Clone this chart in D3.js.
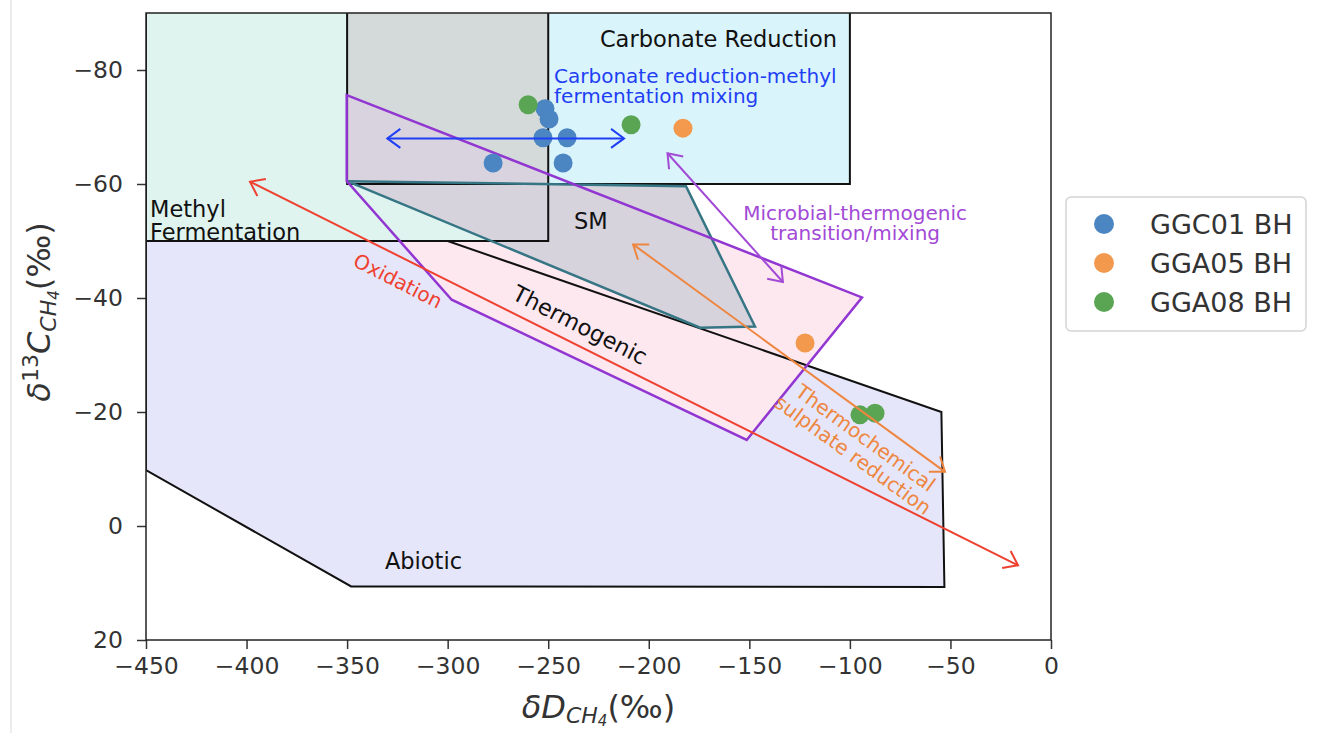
<!DOCTYPE html>
<html>
<head>
<meta charset="utf-8">
<script src="https://cdn.jsdelivr.net/npm/d3@7"></script>
<style>
  body { margin: 0; background: #fff; }
  svg { font-family: "DejaVu Sans", sans-serif; }
</style>
</head>
<body>
<div id="chart"></div>
<script>
// ---- data (delta D, delta 13C, per mil) ----
const xTicks = [-450, -400, -350, -300, -250, -200, -150, -100, -50, 0];
const xTickLabels = ["\u2212450", "\u2212400", "\u2212350", "\u2212300", "\u2212250", "\u2212200", "\u2212150", "\u2212100", "\u221250", "0"];
const yTicks = [-80, -60, -40, -20, 0, 20];
const yTickLabels = ["\u221280", "\u221260", "\u221240", "\u221220", "0", "20"];

const seriesNames = ["GGC01 BH", "GGA05 BH", "GGA08 BH"];
const ggc01 = [[-251.6, -73.2], [-249.6, -71.4], [-252.6, -68.1], [-240.6, -68.1], [-277.4, -63.7], [-242.6, -63.7]];
const gga05 = [[-183, -69.8], [-122.3, -32.1]];
const gga08 = [[-260, -73.9], [-208.8, -70.4], [-95, -19.5], [-87.5, -19.8]];

const methylRegion = [[-450, -95], [-250, -95], [-250, -50], [-450, -50]];
const carbonateRegion = [[-350, -95], [-100, -95], [-100, -60], [-350, -60]];
const abioticRegion = [[-450, -50], [-300, -50], [-54.5, -20], [-53, 10.7], [-348, 10.6], [-450, -9.8]];
const smRegion = [[-350, -60.5], [-181.5, -59.6], [-147.2, -35], [-174.5, -34.8]];
const transitionRegion = [[-350.2, -75.6], [-94, -40.1], [-151.3, -15.1], [-298, -39.7], [-350.2, -60.5]];

const blueArrow = [[-330, -68], [-212.3, -68]];
const oxidationArrow = [[-398.3, -60.4], [-16.4, 6.9]];
const tsrArrow = [[-207.8, -49.4], [-52.7, -9.5]];
const mixArrow = [[-190.7, -65.4], [-133.3, -42.8]];

// ---- layout ----
const W = 1319, H = 733;
const pLeft = 146, pRight = 1051, pTop = 13, pBottom = 640;

const x = d3.scaleLinear().domain([-450, 0]).range([pLeft, pRight]);
const y = d3.scaleLinear().domain([-90, 20]).range([pTop, pBottom]);

const svg = d3.select("#chart").append("svg")
  .attr("width", W).attr("height", H)
  .style("background", "#fff");

svg.append("line")
  .attr("x1", 11).attr("x2", 11).attr("y1", 0).attr("y2", H)
  .attr("stroke", "#ececec").attr("stroke-width", 2);

const defs = svg.append("defs");
defs.append("clipPath").attr("id", "plotclip")
  .append("rect").attr("x", pLeft).attr("y", pTop)
  .attr("width", pRight - pLeft).attr("height", pBottom - pTop);

const line = d3.line().x(d => x(d[0])).y(d => y(d[1]));
const poly = pts => line(pts) + "Z";

// overlap of the two microbial boxes
const mx = d3.extent(methylRegion, d => d[0]), my = d3.extent(methylRegion, d => d[1]);
const cx = d3.extent(carbonateRegion, d => d[0]), cy = d3.extent(carbonateRegion, d => d[1]);
const overlapRegion = [
  [Math.max(mx[0], cx[0]), Math.max(my[0], cy[0])],
  [Math.min(mx[1], cx[1]), Math.max(my[0], cy[0])],
  [Math.min(mx[1], cx[1]), Math.min(my[1], cy[1])],
  [Math.max(mx[0], cx[0]), Math.min(my[1], cy[1])]
];
defs.append("clipPath").attr("id", "overlapclip")
  .append("path").attr("d", poly(overlapRegion));

const g = svg.append("g").attr("clip-path", "url(#plotclip)");

// fills
g.append("path").attr("d", poly(abioticRegion)).attr("fill", "#e6e6fa");
g.append("path").attr("d", poly(transitionRegion)).attr("fill", "#fde8f0");
g.append("path").attr("d", poly(methylRegion)).attr("fill", "#dff3ef");
g.append("path").attr("d", poly(carbonateRegion)).attr("fill", "#daf4fb");
g.append("path").attr("d", poly(overlapRegion)).attr("fill", "#d3dad9");
g.append("path").attr("d", poly(transitionRegion)).attr("fill", "#d9d3df")
  .attr("clip-path", "url(#overlapclip)");

g.append("path").attr("d", poly(abioticRegion))
  .attr("fill", "none").attr("stroke", "#111").attr("stroke-width", 2);

g.append("path").attr("d", poly(smRegion)).attr("fill", "#d6d3dd");

g.append("path").attr("d", poly(methylRegion))
  .attr("fill", "none").attr("stroke", "#111").attr("stroke-width", 2);
g.append("path").attr("d", poly(carbonateRegion))
  .attr("fill", "none").attr("stroke", "#111").attr("stroke-width", 2);
g.append("path").attr("d", poly(smRegion))
  .attr("fill", "none").attr("stroke", "#357584").attr("stroke-width", 2.5)
  .attr("stroke-linejoin", "miter");
g.append("path").attr("d", poly(transitionRegion))
  .attr("fill", "none").attr("stroke", "#9236d2").attr("stroke-width", 2.5);

// points
const colors = ["#4b86c3", "#f2994e", "#5aa553"];
[ggc01, gga05, gga08].forEach(function (pts, i) {
  g.selectAll(null).data(pts).enter().append("circle")
    .attr("cx", d => x(d[0])).attr("cy", d => y(d[1]))
    .attr("r", 9.5).attr("fill", colors[i]);
});

// arrows
function arrow(pts, color, id) {
  defs.append("marker").attr("id", id)
    .attr("viewBox", "-16 -12 20 24")
    .attr("refX", 0).attr("refY", 0)
    .attr("markerUnits", "userSpaceOnUse")
    .attr("markerWidth", 20).attr("markerHeight", 24)
    .attr("orient", "auto-start-reverse")
    .append("path").attr("d", "M-13,-9.5L0,0L-13,9.5")
    .attr("fill", "none").attr("stroke", color).attr("stroke-width", 2);
  svg.append("path").attr("d", line(pts))
    .attr("fill", "none").attr("stroke", color).attr("stroke-width", 2)
    .attr("marker-start", "url(#" + id + ")")
    .attr("marker-end", "url(#" + id + ")");
}
arrow(blueArrow, "#1f3ff5", "ab");
arrow(oxidationArrow, "#ef4130", "ar");
arrow(tsrArrow, "#ee8640", "ao");
arrow(mixArrow, "#a24ad6", "ap");

// labels
function label(lines, vx, vy, opts) {
  const t = svg.append("text")
    .attr("transform", "translate(" + x(vx) + "," + y(vy) + ") rotate(" + (opts.rot || 0) + ")")
    .attr("text-anchor", opts.anchor || "start")
    .attr("font-size", opts.size)
    .attr("fill", opts.color || "#111");
  lines.forEach(function (s, i) {
    t.append("tspan").attr("x", 0).attr("y", (opts.y0 || 0) + i * (opts.lh || 0)).text(s);
  });
}
label(["Carbonate Reduction"], -106.4, -84, { size: 22.5, anchor: "end" });
label(["Carbonate reduction-methyl", "fermentation mixing"], -247.1, -77.7, { size: 20, color: "#1f3ff5", lh: 20 });
label(["Methyl", "Fermentation"], -448, -54.2, { size: 22.5, lh: 23 });
label(["SM"], -237.2, -52.1, { size: 22.5 });
label(["Microbial-thermogenic", "transition/mixing"], -97.4, -53.7, { size: 20, color: "#a24ad6", anchor: "middle", lh: 20 });
label(["Oxidation"], -324.7, -43, { size: 20, color: "#ef4130", anchor: "middle", rot: 27, y0: 7 });
label(["Thermogenic"], -234.2, -35.3, { size: 22.5, anchor: "middle", rot: 27, y0: 8 });
label(["Thermochemical", "sulphate reduction"], -95.5, -13.9, { size: 20, color: "#ee8640", anchor: "middle", rot: 36, y0: -4, lh: 21 });
label(["Abiotic"], -331.2, 7.5, { size: 22.5 });

// axes
const xAxis = svg.append("g").attr("transform", "translate(0," + pBottom + ")")
  .call(d3.axisBottom(x).tickValues(xTicks).tickSize(9).tickPadding(8)
    .tickFormat((d, i) => xTickLabels[i]));
const yAxis = svg.append("g").attr("transform", "translate(" + pLeft + ",0)")
  .call(d3.axisLeft(y).tickValues(yTicks).tickSize(9).tickPadding(14)
    .tickFormat((d, i) => yTickLabels[i]));
[xAxis, yAxis].forEach(function (a) {
  a.select(".domain").remove();
  a.selectAll(".tick line").attr("stroke", "#333").attr("stroke-width", 1.5);
  a.selectAll(".tick text").attr("font-size", 23.5).attr("fill", "#333")
    .attr("font-family", "DejaVu Sans");
});

svg.append("rect").attr("x", pLeft).attr("y", pTop)
  .attr("width", pRight - pLeft).attr("height", pBottom - pTop)
  .attr("fill", "none").attr("stroke", "#222").attr("stroke-width", 1.5);

// axis titles
const xt = svg.append("text").attr("x", (pLeft + pRight) / 2).attr("y", 718)
  .attr("text-anchor", "middle").attr("font-size", 32).attr("fill", "#333");
xt.append("tspan").attr("font-style", "italic").text("\u03b4D");
xt.append("tspan").attr("font-style", "italic").attr("font-size", 22).attr("dy", 5).text("CH");
xt.append("tspan").attr("font-style", "italic").attr("font-size", 15).attr("dy", 3).text("4");
xt.append("tspan").attr("dy", -8).text("(\u2030)");

const yt = svg.append("text").attr("transform", "translate(50,312) rotate(-90)")
  .attr("text-anchor", "middle").attr("font-size", 32).attr("fill", "#333");
yt.append("tspan").attr("font-style", "italic").text("\u03b4");
yt.append("tspan").attr("font-size", 22).attr("dy", -12).text("13");
yt.append("tspan").attr("font-style", "italic").attr("dy", 12).text("C");
yt.append("tspan").attr("font-style", "italic").attr("font-size", 22).attr("dy", 6).text("CH");
yt.append("tspan").attr("font-style", "italic").attr("font-size", 15).attr("dy", 3).text("4");
yt.append("tspan").attr("dy", -9).text("(\u2030)");

// legend
const lg = svg.append("g");
lg.append("rect").attr("x", 1066).attr("y", 197).attr("width", 240).attr("height", 134)
  .attr("rx", 5).attr("fill", "#fff").attr("stroke", "#d4d4d4").attr("stroke-width", 1.5);
seriesNames.forEach(function (name, i) {
  lg.append("circle").attr("cx", 1104).attr("cy", 224 + i * 39).attr("r", 10).attr("fill", colors[i]);
  lg.append("text").attr("x", 1150).attr("y", 224 + i * 39).attr("dy", "0.36em")
    .attr("font-size", 27).attr("fill", "#333").text(name);
});
</script>
</body>
</html>
